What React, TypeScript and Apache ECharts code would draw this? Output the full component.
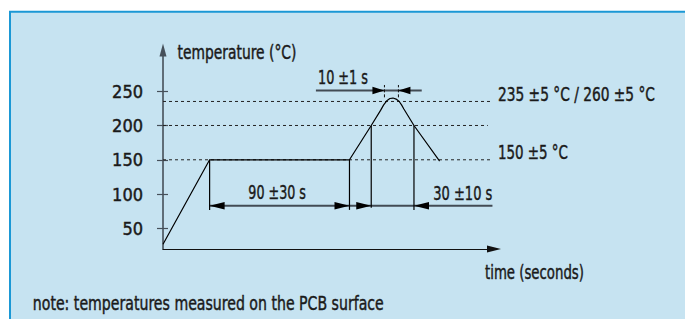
import React, { useEffect, useRef } from "react";
import * as echarts from "echarts";

// ---- data (time in seconds, temperature in °C) ----
const yTickValues = [50, 100, 150, 200, 250];
const profile: [number, number][] = [
  [0, 27], [30, 150], [120, 150], [134, 200], [140, 222], [142, 230], [144, 236],
  [146, 239.3], [148, 240], [150, 238.5], [152, 235], [153.5, 230], [155, 224],
  [161.5, 200], [178, 148],
];
// dashed reference levels: [temperature, end time]
const levelLines: [number, number][] = [[235, 211.5], [200, 209], [150, 211.5]];
// vertical drop lines: [time, top temp, bottom temp]
const dropLines: [number, number, number][] = [[30, 150, 77], [120, 150, 77], [134, 200, 80], [161.5, 200, 77]];
// dimension lines: [t1, t2, temp]
const dimLines: [number, number, number][] = [[30, 212, 83], [98.4, 166.5, 251]];
// arrow heads: [time, temp, direction (+1 right, -1 left), size class]
const arrowHeads: [number, number, number, number][] = [
  [30, 83, -1, 0], [120, 83, 1, 0], [134, 83, 1, 0], [161.5, 83, -1, 0],
  [142.5, 251, 1, 1], [151.5, 251, -1, 1],
];
// short dashed markers at peak: [time, temp1, temp2]
const peakMarks: [number, number, number][] = [[142.5, 241, 259], [151.5, 241, 259]];

const FONT = "'Liberation Sans Narrow', 'DejaVu Sans Condensed', 'Liberation Sans', sans-serif";
const TXT = "#1a1a1a";

let measureCtx: CanvasRenderingContext2D | null = null;
function measure(text: string, size: number) {
  if (!measureCtx) measureCtx = document.createElement("canvas").getContext("2d");
  if (!measureCtx) return 0;
  measureCtx.font = `${size}px ${FONT}`;
  return measureCtx.measureText(text).width;
}

function txt(text: string, x: number, y: number, w: number, size = 20) {
  const m = measure(text, size);
  const sx = m > 0 ? w / m : 1;
  return {
    type: "text",
    x,
    y,
    scaleX: sx,
    z: 50,
    style: {
      text,
      fill: TXT,
      fontSize: size,
      fontFamily: FONT,
      textAlign: "left",
      textVerticalAlign: "middle",
      align: "left",
      verticalAlign: "middle",
      stroke: TXT,
      lineWidth: 0.45,
    },
  };
}

export default function App() {
  const ref = useRef<HTMLDivElement>(null);
  useEffect(() => {
    document.body.style.margin = "0";
    if (!ref.current) return;
    const chart = echarts.init(ref.current, undefined, { renderer: "svg" });
    const yCommon = { type: "value", min: 20, max: 310, position: "left", splitLine: { show: false } };
    const option: any = {
      animation: false,
      grid: { left: 163, top: 50, width: 331, height: 199, containLabel: false },
      xAxis: {
        type: "value",
        min: 0,
        max: 213,
        axisLine: { show: true, lineStyle: { color: "#111", width: 1.2 }, symbol: ["none", "triangle"], symbolSize: [7, 14] },
        axisTick: { show: false },
        axisLabel: { show: false },
        splitLine: { show: false },
      },
      yAxis: [
        {
          ...yCommon,
          axisLine: { show: true, lineStyle: { color: "#46505a", width: 1.6 }, symbol: ["none", "triangle"], symbolSize: [7, 13] },
          axisTick: { show: true, length: 6, lineStyle: { color: "#46505a", width: 1.2 }, customValues: yTickValues },
          axisLabel: {
            show: true, margin: 20, color: TXT, fontSize: 18, fontFamily: FONT, customValues: yTickValues,
            textBorderColor: TXT, textBorderWidth: 0.45,
          },
        },
        {
          ...yCommon,
          axisLine: { show: false },
          axisTick: { show: true, inside: true, length: 5, lineStyle: { color: "#46505a", width: 1.2 }, customValues: yTickValues },
          axisLabel: { show: false },
        },
      ],
      graphic: [
        {
          type: "rect",
          z: -10,
          shape: { x: 10, y: 11.7, width: 700, height: 340 },
          style: { fill: "#c6e3f1", stroke: "#1b98d5", lineWidth: 2 },
        },
        txt("temperature (°C)", 177.5, 52, 119),
        txt("10 ±1 s", 318, 77.5, 50),
        txt("235 ±5 °C / 260 ±5 °C", 498, 93.5, 157),
        txt("150 ±5 °C", 498, 152, 70),
        txt("90 ±30 s", 248.3, 192.5, 57.7),
        txt("30 ±10 s", 433.3, 193, 59),
        txt("time (seconds)", 485, 272.5, 99),
        txt("note: temperatures measured on the PCB surface", 32.8, 302.5, 351),
      ],
      series: [
        ...levelLines.map(([v, end]) => ({
          type: "line",
          data: [[0, v], [end, v]],
          showSymbol: false,
          silent: true,
          lineStyle: { color: "#222", width: 1, type: [3, 3] },
          z: 2,
        })),
        {
          type: "line",
          data: profile,
          showSymbol: false,
          silent: true,
          lineStyle: { color: "#000", width: 1.2 },
          z: 5,
        },
        {
          type: "custom",
          data: dropLines,
          silent: true,
          z: 5,
          renderItem: (_p: any, api: any) => {
            const a = api.coord([api.value(0), api.value(1)]);
            const b = api.coord([api.value(0), api.value(2)]);
            return { type: "line", shape: { x1: a[0], y1: a[1], x2: b[0], y2: b[1] }, style: { stroke: "#000", lineWidth: 1.2 } };
          },
        },
        {
          type: "custom",
          data: dimLines,
          silent: true,
          z: 4,
          renderItem: (_p: any, api: any) => {
            const a = api.coord([api.value(0), api.value(2)]);
            const b = api.coord([api.value(1), api.value(2)]);
            return { type: "line", shape: { x1: a[0], y1: a[1], x2: b[0], y2: b[1] }, style: { stroke: "#424b54", lineWidth: 2 } };
          },
        },
        {
          type: "custom",
          data: peakMarks,
          silent: true,
          z: 4,
          renderItem: (_p: any, api: any) => {
            const a = api.coord([api.value(0), api.value(1)]);
            const b = api.coord([api.value(0), api.value(2)]);
            return { type: "line", shape: { x1: a[0], y1: a[1], x2: b[0], y2: b[1] }, style: { stroke: "#111", lineWidth: 1, lineDash: [3, 2] } };
          },
        },
        {
          type: "custom",
          data: arrowHeads,
          silent: true,
          z: 6,
          renderItem: (_p: any, api: any) => {
            const tip = api.coord([api.value(0), api.value(1)]);
            const dir = api.value(2);
            const small = api.value(3) === 1;
            const len = small ? 12 : 15;
            const hw = 3.8;
            const bx = tip[0] - dir * len;
            return {
              type: "polygon",
              shape: { points: [[tip[0], tip[1]], [bx, tip[1] - hw], [bx, tip[1] + hw]] },
              style: { fill: "#000" },
            };
          },
        },
      ],
    };
    chart.setOption(option);
    return () => chart.dispose();
  }, []);
  return <div ref={ref} style={{ width: 685, height: 319 }} />;
}
